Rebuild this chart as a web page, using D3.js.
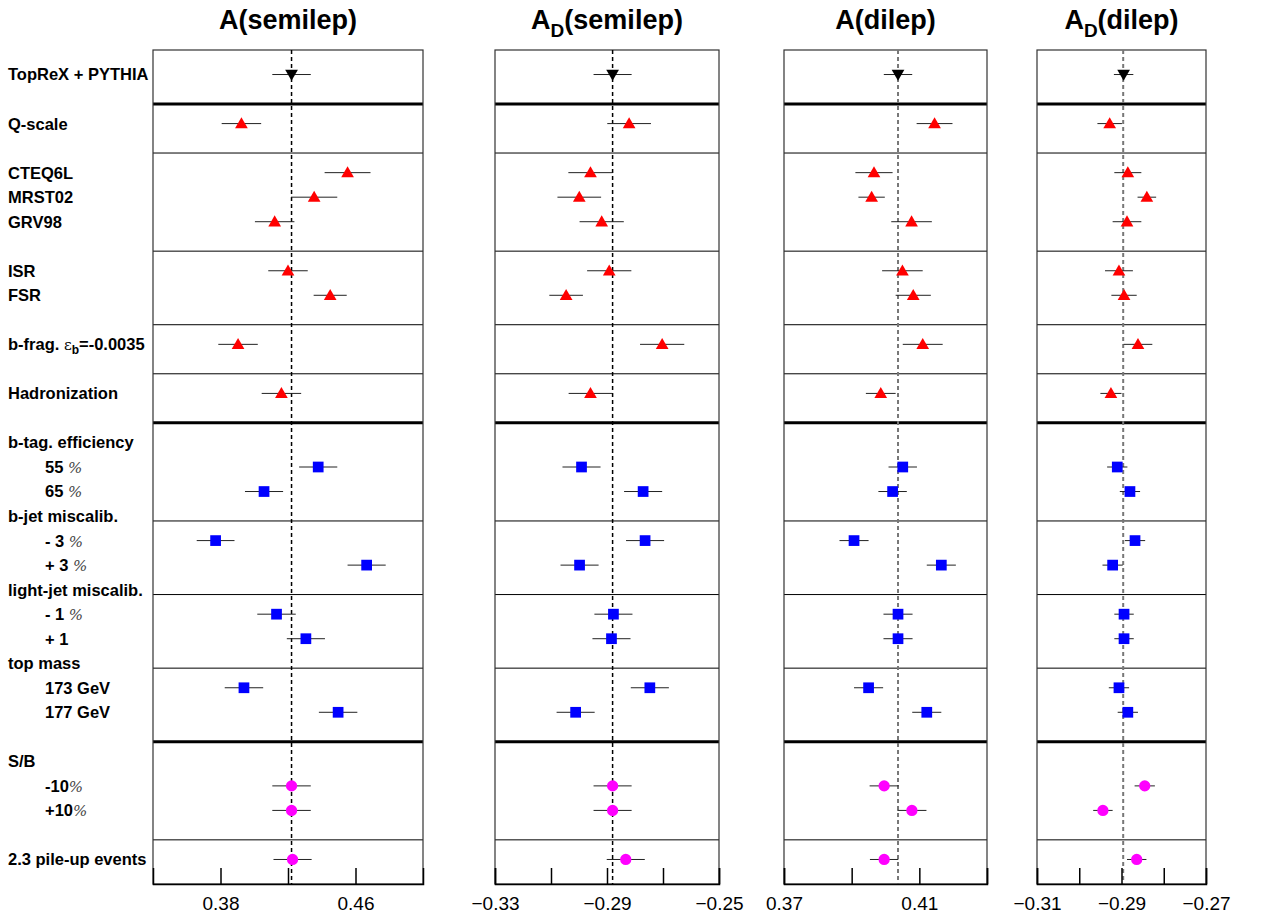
<!DOCTYPE html>
<html>
<head>
<meta charset="utf-8">
<script src="https://cdn.jsdelivr.net/npm/d3@7"></script>
<style>
  body { margin: 0; background: #fff; }
  svg { display: block; }
</style>
</head>
<body>
<div id="chart"></div>
<script>
// rows (position in row units, 0 = top of frame, 34 = bottom)
const rowNames = ["TopReX + PYTHIA", "Q-scale", "CTEQ6L", "MRST02", "GRV98", "ISR", "FSR",
  "b-frag.", "Hadronization", "55 %", "65 %", "- 3 %", "+ 3 %", "- 1 %", "+ 1",
  "173 GeV", "177 GeV", "-10%", "+10%", "2.3 pile-up events"];
const rowPos = [1, 3, 5, 6, 7, 9, 10, 12, 14, 17, 18, 20, 21, 23, 24, 26, 27, 30, 31, 33];
const rowIndent = [0, 0, 0, 0, 0, 0, 0, 0, 0, 1, 1, 1, 1, 1, 1, 1, 1, 1, 1, 0];
const markerKind = ["down", "up", "up", "up", "up", "up", "up", "up", "up",
  "square", "square", "square", "square", "square", "square", "square", "square",
  "circle", "circle", "circle"];

const groupNames = ["b-tag. efficiency", "b-jet miscalib.", "light-jet miscalib.", "top mass", "S/B"];
const groupPos = [16, 19, 22, 25, 29];

const separators = [2.2, 4.2, 8.2, 11.2, 13.2, 15.2, 19.2, 22.2, 25.2, 28.2, 32.2];
const thickSeparators = [2.2, 15.2, 28.2];

// panels
const panelTitles = [["A", "", "(semilep)"], ["A", "D", "(semilep)"], ["A", "", "(dilep)"], ["A", "D", "(dilep)"]];
const panelDomains = [[0.34, 0.50], [-0.33, -0.25], [0.37, 0.43], [-0.31, -0.27]];
const panelTicks = [[0.38, 0.42, 0.46], [-0.33, -0.31, -0.29, -0.27, -0.25], [0.37, 0.39, 0.41, 0.43], [-0.31, -0.30, -0.29, -0.28, -0.27]];
const panelTickLabels = [[0.38, 0.46], [-0.33, -0.29, -0.25], [0.37, 0.41], [-0.31, -0.29, -0.27]];
const panelRef = [0.4221, -0.2880, 0.4037, -0.2896];

const valuesASemi = [0.4221, 0.3924, 0.4553, 0.4355, 0.4121, 0.4200, 0.4450, 0.3904, 0.4161,
  0.4379, 0.4058, 0.3771, 0.4666, 0.4132, 0.4306, 0.3939, 0.4497, 0.4221, 0.4221, 0.4227];
const errorsASemi = [0.0114, 0.0117, 0.0136, 0.0137, 0.0117, 0.0117, 0.0098, 0.0117, 0.0117,
  0.0113, 0.0113, 0.0112, 0.0113, 0.0114, 0.0113, 0.0114, 0.0114, 0.0114, 0.0114, 0.0113];

const valuesADSemi = [-0.2880, -0.2821, -0.2959, -0.2999, -0.2919, -0.2892, -0.3046, -0.2703, -0.2959,
  -0.2991, -0.2771, -0.2764, -0.2998, -0.2877, -0.2884, -0.2747, -0.3012, -0.2880, -0.2880, -0.2833];
const errorsADSemi = [0.0068, 0.0078, 0.0079, 0.0078, 0.0079, 0.0079, 0.0060, 0.0079, 0.0078,
  0.0068, 0.0068, 0.0068, 0.0068, 0.0068, 0.0068, 0.0068, 0.0068, 0.0068, 0.0068, 0.0068];

const valuesADi = [0.4037, 0.4145, 0.3966, 0.3959, 0.4077, 0.4050, 0.4082, 0.4110, 0.3986,
  0.4051, 0.4021, 0.3907, 0.4165, 0.4037, 0.4037, 0.3950, 0.4122, 0.3996, 0.4078, 0.3996];
const errorsADi = [0.0042, 0.0053, 0.0055, 0.0039, 0.0060, 0.0060, 0.0052, 0.0059, 0.0044,
  0.0042, 0.0042, 0.0043, 0.0043, 0.0043, 0.0043, 0.0043, 0.0043, 0.0043, 0.0043, 0.0042];

const valuesADDi = [-0.2895, -0.2928, -0.2885, -0.2840, -0.2887, -0.2906, -0.2894, -0.2861, -0.2925,
  -0.2910, -0.2880, -0.2868, -0.2921, -0.2894, -0.2894, -0.2906, -0.2885, -0.2845, -0.2944, -0.2864];
const errorsADDi = [0.0023, 0.0029, 0.0032, 0.0022, 0.0034, 0.0033, 0.0030, 0.0034, 0.0025,
  0.0024, 0.0024, 0.0024, 0.0024, 0.0023, 0.0023, 0.0024, 0.0024, 0.0024, 0.0023, 0.0023];

const panelValues = [valuesASemi, valuesADSemi, valuesADi, valuesADDi];
const panelErrors = [errorsASemi, errorsADSemi, errorsADi, errorsADDi];

// layout
const panelX = [[153, 423], [495, 719], [784, 987], [1037, 1206]];
const frameTop = 50, frameBottom = 884;

const svg = d3.select("#chart")
  .append("svg")
  .attr("width", 1262)
  .attr("height", 920);

const y = d3.scaleLinear()
  .domain([0, 34])
  .range([frameTop, frameBottom]);

const markerColor = { down: "#000", up: "#ff0000", square: "#0000ff", circle: "#ff00ff" };
const markerPath = {
  down: d3.symbol().type(d3.symbolTriangle).size(70)(),
  up: d3.symbol().type(d3.symbolTriangle).size(70)(),
  square: d3.symbol().type(d3.symbolSquare).size(115)(),
  circle: d3.symbol().type(d3.symbolCircle).size(100)()
};

// row labels
const labelFont = "'Liberation Sans', Arial, Helvetica, sans-serif";
const labels = svg.append("g")
  .attr("font-family", labelFont)
  .attr("font-weight", "bold")
  .attr("font-size", "16.5px")
  .attr("fill", "#000");

rowNames.forEach((name, i) => {
  const t = labels.append("text")
    .attr("x", rowIndent[i] ? 45 : 8)
    .attr("y", y(rowPos[i]))
    .attr("dy", "0.36em");
  if (name === "b-frag.") {
    t.append("tspan").text("b-frag. ");
    t.append("tspan").attr("font-weight", "normal").attr("font-family", "'DejaVu Serif', serif").attr("font-size", "15px").text("ε");
    t.append("tspan").attr("dy", 4).attr("font-size", "12px").text("b");
    t.append("tspan").attr("dy", -4).text("=-0.0035");
  } else if (name.includes("%")) {
    const parts = name.split("%");
    t.append("tspan").text(parts[0]);
    t.append("tspan").attr("font-weight", "normal").attr("font-style", "italic")
      .attr("font-family", "'DejaVu Serif', serif").attr("fill", "#444").attr("font-size", "15px").text("%");
  } else {
    t.text(name);
  }
});

groupNames.forEach((name, i) => {
  labels.append("text")
    .attr("x", 8)
    .attr("y", y(groupPos[i]))
    .attr("dy", "0.36em")
    .text(name);
});

// panels
panelDomains.forEach((dom, p) => {
  const x = d3.scaleLinear()
    .domain(dom)
    .range(panelX[p]);
  const g = svg.append("g");

  // title
  const title = g.append("text")
    .attr("x", (panelX[p][0] + panelX[p][1]) / 2)
    .attr("y", 29)
    .attr("text-anchor", "middle")
    .attr("font-family", labelFont)
    .attr("font-weight", "bold")
    .attr("font-size", "27px");
  title.append("tspan").text(panelTitles[p][0]);
  if (panelTitles[p][1]) {
    title.append("tspan").attr("dy", 8).attr("font-size", "19px").text(panelTitles[p][1]);
    title.append("tspan").attr("dy", -8).text(panelTitles[p][2]);
  } else {
    title.append("tspan").text(panelTitles[p][2]);
  }

  // separators
  g.selectAll("line.sep")
    .data(separators)
    .join("line")
    .attr("class", "sep")
    .attr("x1", x(dom[0]))
    .attr("x2", x(dom[1]))
    .attr("y1", d => y(d))
    .attr("y2", d => y(d))
    .attr("stroke", "#000")
    .attr("stroke-width", d => thickSeparators.includes(d) ? 3 : 1);

  // frame
  g.append("rect")
    .attr("x", x(dom[0]))
    .attr("y", y(0))
    .attr("width", x(dom[1]) - x(dom[0]))
    .attr("height", y(34) - y(0))
    .attr("fill", "none")
    .attr("stroke", "#333")
    .attr("stroke-width", 1.2);

  // reference line
  g.append("line")
    .attr("x1", x(panelRef[p]))
    .attr("x2", x(panelRef[p]))
    .attr("y1", y(0))
    .attr("y2", y(34))
    .attr("stroke", p < 2 ? "#000" : "#777")
    .attr("stroke-width", p < 2 ? 1.5 : 2)
    .attr("stroke-dasharray", "4,3");

  // axis
  const fmt = d3.format(".2f");
  const axis = g.append("g")
    .attr("transform", `translate(0,${y(34)})`)
    .call(d3.axisBottom(x)
      .tickValues(panelTicks[p])
      .tickSize(-16)
      .tickPadding(13)
      .tickFormat(d => panelTickLabels[p].some(v => Math.abs(v - d) < 1e-9) ? fmt(d) : ""));
  axis.select(".domain").attr("stroke", "#000").attr("stroke-width", 1.5);
  axis.selectAll(".tick line").attr("stroke", "#000").attr("stroke-width", 1.5);
  axis.selectAll(".tick text")
    .attr("font-family", labelFont)
    .attr("font-size", "19px")
    .attr("fill", "#000");

  // points
  const vals = panelValues[p], errs = panelErrors[p];
  const pts = g.selectAll("g.pt")
    .data(vals.map((v, i) => ({ v: v, e: errs[i], row: rowPos[i], kind: markerKind[i] })))
    .join("g")
    .attr("class", "pt");

  pts.append("line")
    .attr("x1", d => x(d.v - d.e))
    .attr("x2", d => x(d.v + d.e))
    .attr("y1", d => y(d.row))
    .attr("y2", d => y(d.row))
    .attr("stroke", "#222")
    .attr("stroke-width", 1);

  pts.append("path")
    .attr("d", d => markerPath[d.kind])
    .attr("fill", d => markerColor[d.kind])
    .attr("transform", d => {
      if (d.kind === "down") return `translate(${x(d.v)},${y(d.row) - 1}) rotate(180)`;
      if (d.kind === "up") return `translate(${x(d.v)},${y(d.row) + 1})`;
      return `translate(${x(d.v)},${y(d.row)})`;
    });
});
</script>
</body>
</html>
